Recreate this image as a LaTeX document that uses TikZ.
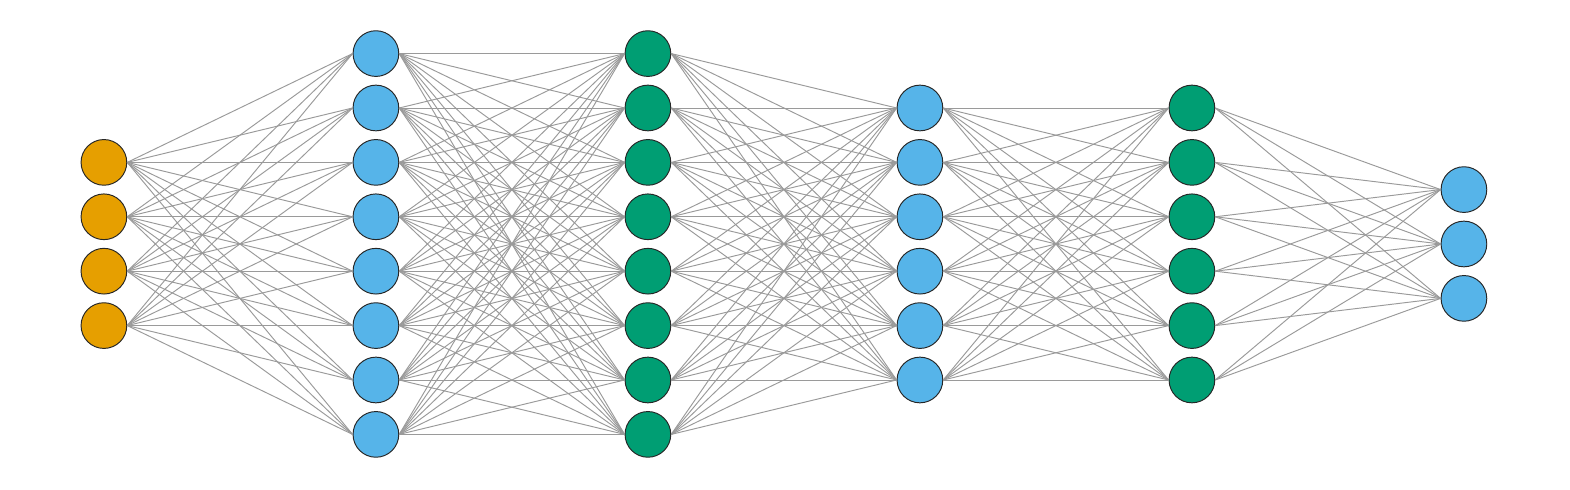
\documentclass[tikz,border=0pt]{standalone}
\usetikzlibrary{positioning}
\definecolor{inorange}{HTML}{E69F00}
\definecolor{skyblue}{HTML}{56B4E9}
\definecolor{bluegreen}{HTML}{009E73}
\definecolor{wiregray}{HTML}{9A9A9A}
\tikzset{
  neuron/.style={circle,draw=black!85,line width=0.5pt,minimum size=0.84cm,inner sep=0pt},
  wire/.style={wiregray,line width=0.5pt}
}
\begin{document}
\begin{tikzpicture}
        \useasboundingbox (0,-4.52) rectangle (28.86,4.485);
        % layers: number/size/colour
        \foreach \l/\n/\c in {1/4/inorange,2/8/skyblue,3/8/bluegreen,4/6/skyblue,5/6/bluegreen,6/3/skyblue}
          \foreach \i in {1,...,\n}
            \draw ({1.91+5*(\l-1)},{(\n+1)/2-\i}) node[neuron,fill=\c](n\l-\i){};
        % connections
        \foreach \l/\n/\m in {1/4/8,2/8/8,3/8/6,4/6/6,5/6/3}
          \foreach \i in {1,...,\n}
            \foreach \j in {1,...,\m}
              {\pgfmathtruncatemacro{\k}{\l+1}
               \draw[wire] (n\l-\i.east) -- (n\k-\j.west);}
      \end{tikzpicture}
\end{document}
